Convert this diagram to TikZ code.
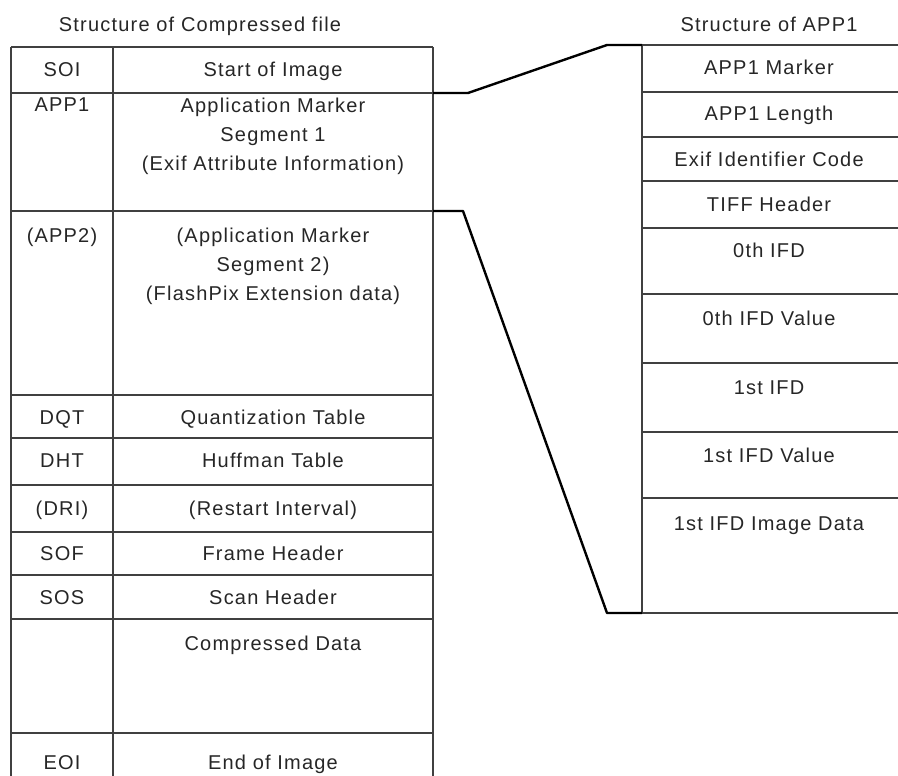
\documentclass[tikz,border=0pt]{standalone}
\usepackage{fontspec}
\setmainfont{Liberation Sans}[LetterSpace=6]
\begin{document}
\begin{tikzpicture}[x=1pt,y=-1pt,
  grid/.style={draw=black!75, line width=1.4pt},
  conn/.style={draw=black, line width=2.4pt, line join=round},
  txt/.style={inner sep=0pt, anchor=base, align=center, text=black!85,
    font=\fontsize{20}{29}\selectfont},
  ttl/.style={txt}]
\useasboundingbox (0,0) rectangle (898,776);
% ---------- left table ----------
\foreach \y in {47,93,211,395,438,485,532,575,619,733}
  \draw[grid] (11,\y) -- (433,\y);
\foreach \x in {11,113,433}
  \draw[grid] (\x,47) -- (\x,776);
\node[ttl] (t1) at (200,32) {Structure of Compressed file};
\node[txt] (soi) at (62,77) {SOI};
\node[txt] (soit) at (273,77) {Start of Image};
\node[txt] (app1) at (62,112) {APP1};
% multi-line nodes: the base anchor sits on the last line
\node[txt] (app1t) at (273,170) {Application Marker\\Segment 1\\(Exif Attribute Information)};
\node[txt] (app2) at (62,242) {(APP2)};
\node[txt] (app2t) at (273,300) {(Application Marker\\Segment 2)\\(FlashPix Extension data)};
\node[txt] (dqt) at (62,424) {DQT};
\node[txt] (dqtt) at (273,424) {Quantization Table};
\node[txt] (dht) at (62,467) {DHT};
\node[txt] (dhtt) at (273,467) {Huffman Table};
\node[txt] (dri) at (62,515) {(DRI)};
\node[txt] (drit) at (273,515) {(Restart Interval)};
\node[txt] (sof) at (62,560) {SOF};
\node[txt] (soft) at (273,560) {Frame Header};
\node[txt] (sos) at (62,604) {SOS};
\node[txt] (sost) at (273,604) {Scan Header};
\node[txt] (cdt) at (273,650) {Compressed Data};
\node[txt] (eoi) at (62,769) {EOI};
\node[txt] (eoit) at (273,769) {End of Image};
% ---------- right table ----------
\foreach \y in {45,92,137,181,228,294,363,432,498,613}
  \draw[grid] (642,\y) -- (898,\y);
\draw[grid] (642,45) -- (642,613);
\node[ttl] (t2) at (769,32) {Structure of APP1};
\node[txt] (r1) at (769,75) {APP1 Marker};
\node[txt] (r2) at (769,121) {APP1 Length};
\node[txt] (r3) at (769,167) {Exif Identifier Code};
\node[txt] (r4) at (769,211) {TIFF Header};
\node[txt] (r5) at (769,257) {0th IFD};
\node[txt] (r6) at (769,325) {0th IFD Value};
\node[txt] (r7) at (769,394) {1st IFD};
\node[txt] (r8) at (769,462) {1st IFD Value};
\node[txt] (r9) at (769,530) {1st IFD Image Data};
% ---------- connectors ----------
\coordinate (a1) at (433,93);
\coordinate (a2) at (642,45);
\coordinate (b1) at (433,211);
\coordinate (b2) at (642,613);
\draw[conn] (a1) -- (468,93) -- (607,45) -- (a2);
\draw[conn] (b1) -- (463,211) -- (607,613) -- (b2);
\end{tikzpicture}
\end{document}
